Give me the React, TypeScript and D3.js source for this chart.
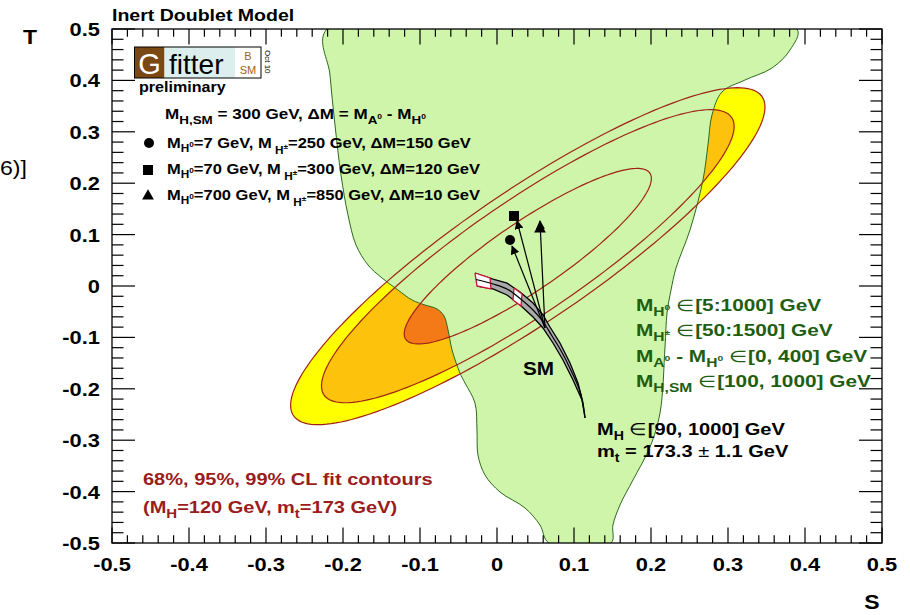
import React from "react";
import * as d3 from "d3";

// ---- data (S, T) ----
const X_TICK_LABELS = ["-0.5", "-0.4", "-0.3", "-0.2", "-0.1", "0", "0.1", "0.2", "0.3", "0.4", "0.5"];
const Y_TICK_LABELS = ["-0.5", "-0.4", "-0.3", "-0.2", "-0.1", "0", "0.1", "0.2", "0.3", "0.4", "0.5"];

// fit ellipse: centre, sigmas, correlation
const FIT_CENTER = [0.04, 0.058];
const FIT_SIGMA = [0.1015, 0.108];
const FIT_RHO = 0.885;
const CL_LEVELS = [9.21, 6.97, 2.5]; // outer (99%), middle (95%), inner (68%) in delta chi2
const CL_FILLS = ["#ffff00", "#fcc20c", "#f47a18"];

// allowed region of the inert doublet model
const IDM_REGION: [number, number][] = [
  [-0.2208, 0.5], [0.3896, 0.5], [0.3805, 0.4591], [0.3571, 0.4241], [0.3221, 0.4008],
  [0.2922, 0.3774], [0.2792, 0.3327], [0.274, 0.2743], [0.2675, 0.2062], [0.2506, 0.1089],
  [0.2325, 0.035], [0.226, -0.0078], [0.2208, -0.0525], [0.2182, -0.1187], [0.2117, -0.2471],
  [0.1987, -0.3132], [0.1766, -0.3774], [0.1597, -0.4261], [0.1506, -0.465], [0.1481, -0.5],
  [0.0675, -0.5], [0.0558, -0.465], [0.0364, -0.4319], [0.0039, -0.4008], [-0.0156, -0.3677],
  [-0.0247, -0.3288], [-0.026, -0.2802], [-0.0286, -0.2276], [-0.0416, -0.1887], [-0.0481, -0.1693],
  [-0.0584, -0.1245], [-0.0636, -0.0856], [-0.0688, -0.0584], [-0.0779, -0.0447], [-0.0935, -0.037],
  [-0.1104, -0.0272], [-0.1286, -0.0078], [-0.1494, 0.0156], [-0.1675, 0.0409], [-0.1831, 0.0798],
  [-0.1935, 0.1381], [-0.2026, 0.216], [-0.2104, 0.3132], [-0.2169, 0.4105],
];

// SM prediction band (MH 90..1000 GeV, mt +- 1.1)
const SM_UPPER: [number, number][] = [
  [-0.0286, 0.0253], [-0.0052, 0.0136], [0.013, 0.0058], [0.0299, -0.0117], [0.0468, -0.0331],
  [0.0597, -0.0564], [0.0688, -0.0798], [0.0818, -0.1109], [0.0948, -0.1498], [0.1052, -0.1887],
  [0.1117, -0.2276], [0.1143, -0.2568],
];
const SM_LOWER: [number, number][] = [
  [-0.026, 0.0], [-0.0052, -0.0058], [0.013, -0.0175], [0.0299, -0.037], [0.0468, -0.0603],
  [0.0597, -0.0817], [0.0727, -0.1109], [0.0857, -0.144], [0.0987, -0.1829], [0.1104, -0.2218],
  [0.1143, -0.2568],
];
const SM_BOXES: [number, number][][] = [
  [[-0.0286, 0.0253], [-0.0091, 0.0156], [-0.0078, -0.0058], [-0.026, 0.0]],
  [[0.0221, -0.0039], [0.0325, -0.0156], [0.0312, -0.0389], [0.0208, -0.0272]],
];

// IDM benchmark points and the SM point they start from (MH,SM = 300 GeV)
const ARROW_FROM: [number, number] = [0.0623, -0.0817];
const POINT_CIRCLE: [number, number] = [0.0169, 0.0895];
const POINT_SQUARE: [number, number] = [0.0221, 0.1362];
const POINT_TRIANGLE: [number, number] = [0.0558, 0.1109];
const ARROW_TO: [number, number][] = [[0.0195, 0.0778], [0.026, 0.1265], [0.0558, 0.1265]];

const W = 910, H = 615;
const x = d3.scaleLinear().domain([-0.5, 0.5]).range([112, 882]);
const y = d3.scaleLinear().domain([-0.5, 0.5]).range([543, 29]);
const FONT = "'Liberation Sans', Arial, Helvetica, sans-serif";
const SX = 1.15;
const GREEN_TXT = "#1f5e12";
const RED_TXT = "#9a1c1c";

function Txt({ x, y, size, fill = "#000", anchor = "start", weight = "bold", sx = SX, children }: any) {
  return (
    <text transform={`translate(${x},${y}) scale(${sx},1)`} fontSize={size} fontWeight={weight}
      fill={fill} textAnchor={anchor} fontFamily={FONT}>{children}</text>
  );
}

function ellipse(level: number): [number, number][] {
  const k = Math.sqrt(level);
  const r = Math.sqrt(1 - FIT_RHO * FIT_RHO);
  return d3.range(0, 361, 2).map((deg) => {
    const a = (deg * Math.PI) / 180;
    return [
      FIT_CENTER[0] + k * FIT_SIGMA[0] * Math.cos(a),
      FIT_CENTER[1] + k * FIT_SIGMA[1] * (FIT_RHO * Math.cos(a) + r * Math.sin(a)),
    ];
  });
}

export default function App() {
  const line = d3.line<[number, number]>().x((d) => x(d[0])).y((d) => y(d[1]));
  const smooth = d3.line<[number, number]>().x((d) => x(d[0])).y((d) => y(d[1])).curve(d3.curveCatmullRom);
  const region = d3.line<[number, number]>().x((d) => x(d[0])).y((d) => y(d[1])).curve(d3.curveCatmullRomClosed);

  const minor = d3.range(-50, 51, 2).map((i) => i / 100);
  const major = d3.range(-5, 6).map((i) => i / 10);

  const bandPts = [...SM_UPPER, ...SM_LOWER.slice().reverse()];
  const bandMid = SM_UPPER.map((u, i) => {
    const l = SM_LOWER[Math.min(i, SM_LOWER.length - 1)];
    return [(u[0] + l[0]) / 2, (u[1] + l[1]) / 2] as [number, number];
  });

  const clip = "plotclip";

  return (
    <div style={{ position: "fixed", left: 0, top: 0 }}>
      <svg width={W} height={H} style={{ display: "block", background: "#fff" }}>
        <defs>
          <clipPath id={clip}>
            <rect x={112} y={29} width={770} height={514} />
          </clipPath>
          <marker id="ah" viewBox="0 0 10 10" refX="9" refY="5" markerWidth="9" markerHeight="9"
            markerUnits="userSpaceOnUse" orient="auto">
            <path d="M0,0 L10,5 L0,10 z" fill="#000" />
          </marker>
        </defs>

        <g clipPath={`url(#${clip})`}>
          {CL_LEVELS.map((lv, i) => (
            <path key={"f" + i} d={line(ellipse(lv)) || ""} fill={CL_FILLS[i]} stroke="none" />
          ))}
          <path d={region(IDM_REGION) || ""} fill="#cef5a9" stroke="#2b6a1c" strokeWidth={1} />
          {CL_LEVELS.map((lv, i) => (
            <path key={"l" + i} d={line(ellipse(lv)) || ""} fill="none" stroke="#a02318" strokeWidth={1.2} />
          ))}

          {/* SM band */}
          <path d={line(bandPts) || ""} fill="#a8a8a8" stroke="#000" strokeWidth={1.3} />
          {SM_BOXES.map((b, i) => (
            <path key={"b" + i} d={line([...b, b[0]]) || ""} fill="#fff" stroke="#d0103a" strokeWidth={1.3} />
          ))}
          <path d={smooth(bandMid) || ""} fill="none" stroke="#000" strokeWidth={1.2} />

          {/* arrows */}
          {ARROW_TO.map((t, i) => (
            <line key={"a" + i} x1={x(ARROW_FROM[0])} y1={y(ARROW_FROM[1])} x2={x(t[0])} y2={y(t[1])}
              stroke="#000" strokeWidth={1.2} markerEnd="url(#ah)" />
          ))}
          <circle cx={x(POINT_CIRCLE[0])} cy={y(POINT_CIRCLE[1])} r={5} fill="#000" />
          <rect x={x(POINT_SQUARE[0]) - 5} y={y(POINT_SQUARE[1]) - 5} width={10} height={10} fill="#000" />
          <path d={d3.symbol(d3.symbolTriangle, 60)() || ""}
            transform={`translate(${x(POINT_TRIANGLE[0])},${y(POINT_TRIANGLE[1])})`} fill="#000" />
        </g>

        {/* frame and ticks */}
        <rect x={112} y={29} width={770} height={514} fill="none" stroke="#000" strokeWidth={1.3} />
        <g stroke="#000" strokeWidth={1.2}>
          {minor.map((v) => {
            const isMajor = Math.abs(Math.round(v * 10) - v * 10) < 1e-6;
            const lx = isMajor ? 15.4 : 7.7;
            const ly = isMajor ? 23 : 11.5;
            return (
              <g key={v}>
                <line x1={x(v)} x2={x(v)} y1={543} y2={543 - lx} />
                <line x1={x(v)} x2={x(v)} y1={29} y2={29 + lx} />
                <line y1={y(v)} y2={y(v)} x1={112} x2={112 + ly} />
                <line y1={y(v)} y2={y(v)} x1={882} x2={882 - ly} />
              </g>
            );
          })}
        </g>
        {major.map((v, i) => (
          <Txt key={"xl" + i} x={x(v)} y={571} size={19} anchor="middle">{X_TICK_LABELS[i]}</Txt>
        ))}
        {major.map((v, i) => (
          <Txt key={"yl" + i} x={100} y={y(v) + 7} size={19} anchor="end">{Y_TICK_LABELS[i]}</Txt>
        ))}
        <Txt x={30} y={44} size={20} anchor="middle">T</Txt>
        <Txt x={872} y={609} size={20} anchor="middle">S</Txt>
        <Txt x={112} y={21} size={17}>Inert Doublet Model</Txt>
        <Txt x={0} y={175} size={21} weight="normal" sx={1.1}>6)]</Txt>

        {/* Gfitter logo */}
        <rect x={134.5} y={47} width={30} height={31} fill="#7a4812" />
        <rect x={164.5} y={47} width={70.5} height={31} fill="#ddeeee" />
        <rect x={235} y={47} width={26} height={31} fill="#fff" />
        <rect x={134.5} y={47} width={126.5} height={31} fill="none" stroke="#000" strokeWidth={1} />
        <text x={149.5} y={74} fontSize={29} fill="#fff" textAnchor="middle" fontFamily={FONT}>G</text>
        <text x={169} y={74} fontSize={28} fill="#000" fontFamily={FONT}>fitter</text>
        <text x={248} y={60} fontSize={11} fill="#9c6420" textAnchor="middle" fontFamily={FONT}>B</text>
        <text x={248} y={74} fontSize={11} fill="#9c6420" textAnchor="middle" fontFamily={FONT}>SM</text>
        <text transform="translate(265,50) rotate(90)" fontSize={8} fill="#000" fontFamily={FONT}>Oct 10</text>
        <Txt x={139} y={92} size={14}>preliminary</Txt>

        {/* legend */}
        <Txt x={165} y={119} size={14} sx={1.22}>
          M<tspan dy={5} fontSize={11}>H,SM</tspan><tspan dy={-5}> = 300 GeV, ΔM = M</tspan>
          <tspan dy={5} fontSize={11}>A</tspan><tspan dy={-5} fontSize={7}>0</tspan>
          <tspan dy={0}> - M</tspan><tspan dy={5} fontSize={11}>H</tspan><tspan dy={-5} fontSize={7}>0</tspan>
        </Txt>
        <circle cx={149} cy={143} r={5} fill="#000" />
        <Txt x={167} y={148} size={14} sx={1.18}>
          M<tspan dy={4} fontSize={10}>H</tspan><tspan dy={-5} fontSize={7}>0</tspan>
          <tspan dy={1}>=7 GeV, M</tspan><tspan dy={6} fontSize={10}> H</tspan><tspan dy={-5} fontSize={7}>±</tspan>
          <tspan dy={-1}>=250 GeV, ΔM=150 GeV</tspan>
        </Txt>
        <rect x={143} y={165} width={10} height={10} fill="#000" />
        <Txt x={167} y={174} size={14} sx={1.18}>
          M<tspan dy={4} fontSize={10}>H</tspan><tspan dy={-5} fontSize={7}>0</tspan>
          <tspan dy={1}>=70 GeV, M</tspan><tspan dy={6} fontSize={10}> H</tspan><tspan dy={-5} fontSize={7}>±</tspan>
          <tspan dy={-1}>=300 GeV, ΔM=120 GeV</tspan>
        </Txt>
        <path d={d3.symbol(d3.symbolTriangle, 60)() || ""} transform="translate(148,196)" fill="#000" />
        <Txt x={167} y={200} size={14} sx={1.18}>
          M<tspan dy={4} fontSize={10}>H</tspan><tspan dy={-5} fontSize={7}>0</tspan>
          <tspan dy={1}>=700 GeV, M</tspan><tspan dy={6} fontSize={10}> H</tspan><tspan dy={-5} fontSize={7}>±</tspan>
          <tspan dy={-1}>=850 GeV, ΔM=10 GeV</tspan>
        </Txt>

        {/* scan ranges */}
        <Txt x={636} y={311} size={16} sx={1.3} fill={GREEN_TXT}>
          M<tspan dy={5} fontSize={12}>H</tspan><tspan dy={-6} fontSize={8}>0</tspan>
          <tspan dy={1} fontWeight="normal"> ∈</tspan><tspan>[5:1000] GeV</tspan>
        </Txt>
        <Txt x={636} y={336} size={16} sx={1.3} fill={GREEN_TXT}>
          M<tspan dy={5} fontSize={12}>H</tspan><tspan dy={-6} fontSize={8}>±</tspan>
          <tspan dy={1} fontWeight="normal"> ∈</tspan><tspan>[50:1500] GeV</tspan>
        </Txt>
        <Txt x={636} y={362} size={16} sx={1.3} fill={GREEN_TXT}>
          M<tspan dy={5} fontSize={12}>A</tspan><tspan dy={-6} fontSize={8}>0</tspan>
          <tspan dy={1}> - M</tspan><tspan dy={5} fontSize={12}>H</tspan><tspan dy={-6} fontSize={8}>0</tspan>
          <tspan dy={1} fontWeight="normal"> ∈</tspan><tspan>[0, 400] GeV</tspan>
        </Txt>
        <Txt x={636} y={387} size={16} sx={1.3} fill={GREEN_TXT}>
          M<tspan dy={5} fontSize={12}>H,SM</tspan>
          <tspan dy={-5} fontWeight="normal"> ∈</tspan><tspan>[100, 1000] GeV</tspan>
        </Txt>

        <Txt x={523} y={375} size={18}>SM</Txt>
        <Txt x={597} y={435} size={17} sx={1.18}>
          M<tspan dy={5} fontSize={12}>H</tspan>
          <tspan dy={-5} fontWeight="normal"> ∈</tspan><tspan>[90, 1000] GeV</tspan>
        </Txt>
        <Txt x={597} y={457} size={17} sx={1.18}>
          m<tspan dy={5} fontSize={12}>t</tspan><tspan dy={-5}> = 173.3 </tspan>
          <tspan fontWeight="normal">±</tspan><tspan> 1.1 GeV</tspan>
        </Txt>

        <Txt x={143} y={485} size={16} sx={1.25} fill={RED_TXT}>68%, 95%, 99% CL fit contours</Txt>
        <Txt x={143} y={513} size={16} sx={1.25} fill={RED_TXT}>
          (M<tspan dy={5} fontSize={12}>H</tspan><tspan dy={-5}>=120 GeV, m</tspan>
          <tspan dy={5} fontSize={12}>t</tspan><tspan dy={-5}>=173 GeV)</tspan>
        </Txt>
      </svg>
    </div>
  );
}
